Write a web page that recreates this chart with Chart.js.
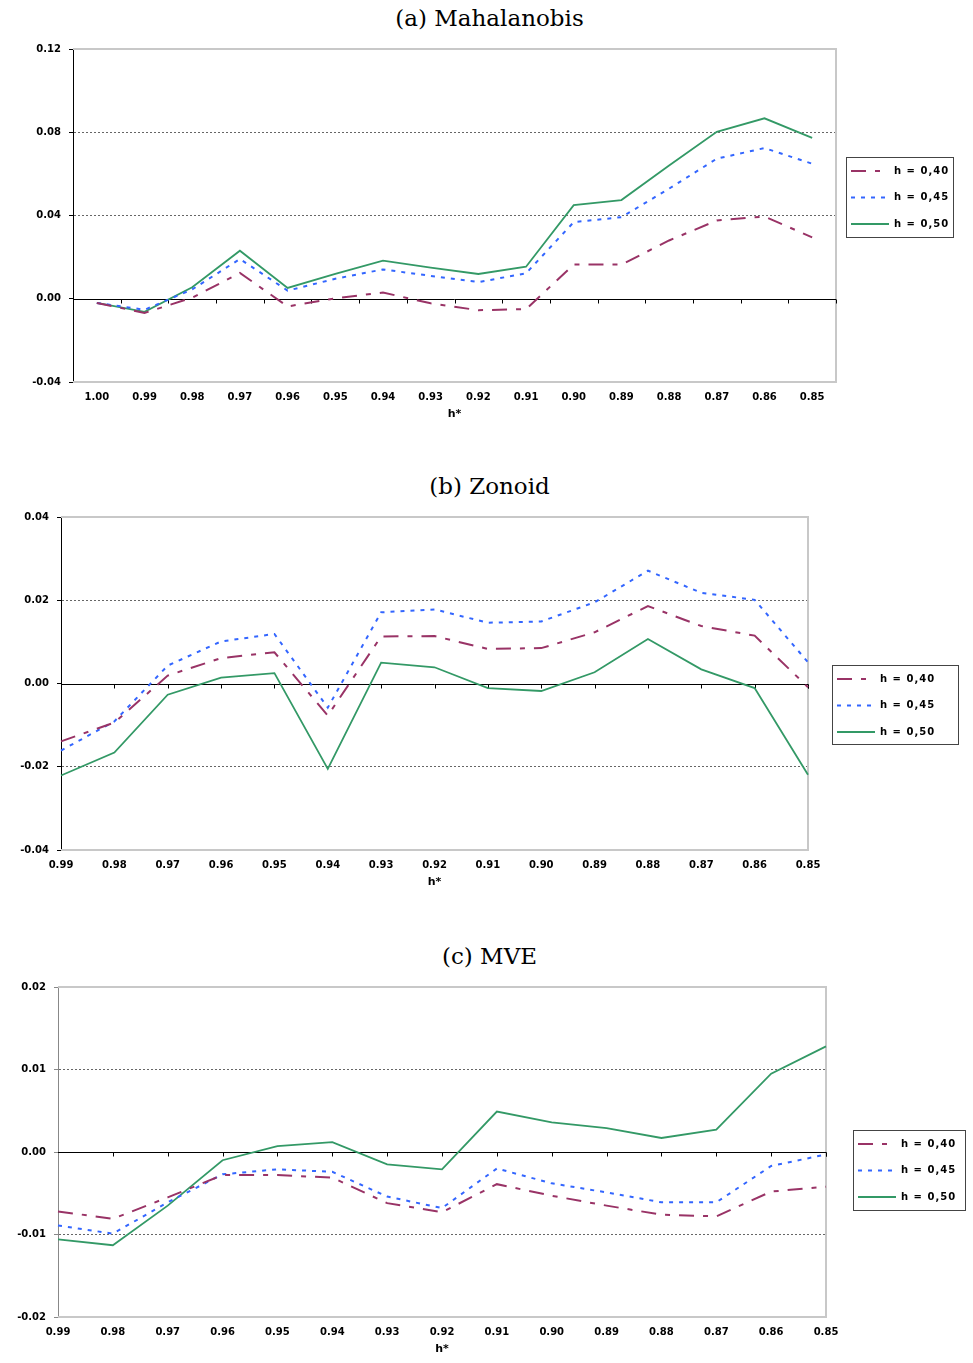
<html>
    <head>
        <meta name="viewport" content="width=device-width, initial-scale=1.0">
        <meta http-equiv="content-type" content="text/html; charset=UTF-8">
        <script src="https://cdn.jsdelivr.net/npm/chart.js"></script>
        <title>h* curves</title>
        <style>
            body { margin: 0; background: #fff; width: 973px; height: 1363px; position: relative; overflow: hidden; }
            .title { position: absolute; left: 3px; width: 973px; text-align: center; font-family: "DejaVu Serif"; font-size: 23px; color: #000; }
            canvas { position: absolute; left: 0; }
        </style>
    </head>
    <body>
        <div class="title" style="top: 5px">(a) Mahalanobis</div>
        <canvas id="mahal" width="973" height="391" style="top: 35px"></canvas>
        <div class="title" style="top: 473px">(b) Zonoid</div>
        <canvas id="zonoid" width="973" height="391" style="top: 503px"></canvas>
        <div class="title" style="top: 943px">(c) MVE</div>
        <canvas id="mve" width="973" height="388" style="top: 973px"></canvas>

        <script>
            const seriesNames = ['h = 0,40', 'h = 0,45', 'h = 0,50'];

            const labelsMahal = ['1.00', '0.99', '0.98', '0.97', '0.96', '0.95', '0.94', '0.93',
                                 '0.92', '0.91', '0.90', '0.89', '0.88', '0.87', '0.86', '0.85'];
            const mahal40 = [-0.002, -0.0068, 0.0005, 0.0124, -0.0037, 0.0002, 0.003, -0.0022,
                             -0.0055, -0.005, 0.0164, 0.0164, 0.028, 0.0376, 0.0395, 0.0295];
            const mahal45 = [-0.002, -0.0053, 0.0045, 0.0191, 0.0039, 0.0096, 0.0141, 0.011,
                             0.008, 0.0122, 0.0368, 0.0392, 0.0529, 0.0673, 0.0724, 0.0649];
            const mahal50 = [-0.002, -0.0063, 0.0055, 0.0231, 0.0052, 0.012, 0.0183, 0.015,
                             0.0119, 0.0154, 0.045, 0.0474, 0.064, 0.0802, 0.0867, 0.0773];

            const labelsZonoid = ['0.99', '0.98', '0.97', '0.96', '0.95', '0.94', '0.93', '0.92',
                                  '0.91', '0.90', '0.89', '0.88', '0.87', '0.86', '0.85'];
            const zonoid40 = [-0.0139, -0.0094, 0.0019, 0.0061, 0.0075, -0.0077, 0.0113, 0.0114,
                              0.0083, 0.0085, 0.0123, 0.0186, 0.0138, 0.0115, -0.0009];
            const zonoid45 = [-0.0161, -0.0091, 0.0043, 0.0101, 0.0119, -0.0058, 0.0171, 0.0178,
                              0.0146, 0.0149, 0.0195, 0.0271, 0.0218, 0.0201, 0.0051];
            const zonoid50 = [-0.0221, -0.0166, -0.0027, 0.0014, 0.0025, -0.0205, 0.005, 0.0039,
                              -0.0011, -0.0018, 0.0027, 0.0107, 0.0034, -0.0011, -0.0219];

            const labelsMve = ['0.99', '0.98', '0.97', '0.96', '0.95', '0.94', '0.93', '0.92',
                               '0.91', '0.90', '0.89', '0.88', '0.87', '0.86', '0.85'];
            const mve40 = [-0.0072, -0.0081, -0.0055, -0.0028, -0.0028, -0.0031, -0.0062, -0.0073,
                           -0.0039, -0.0053, -0.0065, -0.0076, -0.0078, -0.0048, -0.0042];
            const mve45 = [-0.0089, -0.0099, -0.0061, -0.0027, -0.0021, -0.0024, -0.0054, -0.0068,
                           -0.002, -0.0038, -0.0049, -0.0061, -0.0061, -0.0017, -0.0003];
            const mve50 = [-0.0106, -0.0113, -0.0065, -0.001, 0.0007, 0.0012, -0.0015, -0.0021,
                           0.0049, 0.0036, 0.0029, 0.0017, 0.0027, 0.0095, 0.0128];

            Chart.defaults.font.family = '"DejaVu Sans"';
            Chart.defaults.color = '#000';

            // plot frame, zero axis with its little tick marks
            const frame = {
                id: 'frame',
                beforeDatasetsDraw(chart) {
                    const ctx = chart.ctx, a = chart.chartArea, x = chart.scales.x, y = chart.scales.y;
                    ctx.save();
                    ctx.strokeStyle = '#c8c8c8';
                    ctx.lineWidth = 2;
                    ctx.beginPath();
                    ctx.moveTo(a.left, a.top);
                    ctx.lineTo(a.right, a.top);
                    ctx.lineTo(a.right, a.bottom);
                    ctx.lineTo(a.left, a.bottom);
                    ctx.stroke();

                    const y0 = Math.round(y.getPixelForValue(0)) + 0.5;
                    ctx.strokeStyle = '#000';
                    ctx.lineWidth = 1;
                    ctx.beginPath();
                    ctx.moveTo(a.left, y0);
                    ctx.lineTo(a.right, y0);
                    const n = x.ticks.length;
                    const half = (x.getPixelForTick(1) - x.getPixelForTick(0)) / 2;
                    for (let i = 1; i <= n; i++) {
                        let px = x.options.offset ? x.getPixelForTick(i - 1) + half : x.getPixelForTick(Math.min(i, n - 1));
                        px = Math.round(px) + 0.5;
                        ctx.moveTo(px, y0);
                        ctx.lineTo(px, y0 + 4);
                    }
                    ctx.stroke();
                    ctx.restore();
                }
            };

            // boxed legend at the right side
            const boxLegend = {
                id: 'boxLegend',
                afterDraw(chart, args, o) {
                    const ctx = chart.ctx;
                    ctx.save();
                    ctx.fillStyle = '#fff';
                    ctx.fillRect(o.x, o.y, o.w, o.h);
                    ctx.strokeStyle = '#444';
                    ctx.lineWidth = 1;
                    ctx.strokeRect(o.x + 0.5, o.y + 0.5, o.w, o.h);
                    chart.data.datasets.forEach((ds, i) => {
                        const yy = o.y + 14 + i * 26.5;
                        ctx.strokeStyle = ds.borderColor;
                        ctx.lineWidth = ds.borderWidth;
                        ctx.setLineDash(ds.borderDash || []);
                        ctx.beginPath();
                        ctx.moveTo(o.x + 5, yy);
                        ctx.lineTo(o.x + 43, yy);
                        ctx.stroke();
                        ctx.setLineDash([]);
                        ctx.fillStyle = '#000';
                        ctx.font = 'bold 10px "DejaVu Sans"';
                        ctx.letterSpacing = '1px';
                        ctx.textBaseline = 'middle';
                        ctx.fillText(ds.label, o.x + 48, yy);
                    });
                    ctx.restore();
                }
            };

            function makeChart(id, labels, d40, d45, d50, yMin, yMax, step, offset, plotLeft, plotRight, yAxisColor, legendBox) {
                return new Chart(document.getElementById(id), {
                    type: 'line',
                    data: {
                        labels: labels,
                        datasets: [{
                            label: seriesNames[0],
                            data: d40,
                            borderColor: '#993366',
                            borderWidth: 2,
                            borderDash: [15, 9, 5, 9]
                        }, {
                            label: seriesNames[1],
                            data: d45,
                            borderColor: '#3366ff',
                            borderWidth: 2,
                            borderDash: [4, 6]
                        }, {
                            label: seriesNames[2],
                            data: d50,
                            borderColor: '#339966',
                            borderWidth: 1.8
                        }]
                    },
                    options: {
                        responsive: false,
                        animation: false,
                        elements: { point: { radius: 0 }, line: { tension: 0 } },
                        layout: { padding: { top: 7, left: 0, right: 973 - plotRight, bottom: 0 } },
                        plugins: {
                            legend: { display: false },
                            tooltip: { enabled: false },
                            boxLegend: legendBox
                        },
                        scales: {
                            x: {
                                offset: offset,
                                grid: { display: false, drawTicks: false },
                                border: { display: false },
                                ticks: { padding: 9, maxRotation: 0, autoSkip: false, font: { size: 10, weight: 'bold' } },
                                title: { display: true, text: 'h*', font: { size: 11, weight: 'bold' }, padding: { top: 0, bottom: 5 } },
                                afterFit: s => { s.height = 44; }
                            },
                            y: {
                                min: yMin,
                                max: yMax,
                                grid: {
                                    color: c => (c.tick && (c.tick.value === 0 || c.index === 0 || c.tick.value >= yMax - 1e-9)) ? 'rgba(0,0,0,0)' : '#666',
                                    tickColor: yAxisColor,
                                    tickLength: 4
                                },
                                border: { color: yAxisColor, width: 1, dash: [2, 2] },
                                ticks: {
                                    stepSize: step,
                                    padding: 8,
                                    font: { size: 10, weight: 'bold' },
                                    callback: v => Number(v).toFixed(2)
                                },
                                afterFit: s => { s.width = plotLeft; }
                            }
                        }
                    },
                    plugins: [frame, boxLegend]
                });
            }

            makeChart('mahal', labelsMahal, mahal40, mahal45, mahal50, -0.04, 0.12, 0.04, true, 73, 836, '#000',
                      { x: 846, y: 122, w: 107, h: 80 });
            makeChart('zonoid', labelsZonoid, zonoid40, zonoid45, zonoid50, -0.04, 0.04, 0.02, false, 61, 808, '#000',
                      { x: 832, y: 162, w: 126, h: 79 });
            makeChart('mve', labelsMve, mve40, mve45, mve50, -0.02, 0.02, 0.01, false, 58, 826, '#888',
                      { x: 853, y: 157, w: 112, h: 80 });
        </script>
    </body>
</html>
